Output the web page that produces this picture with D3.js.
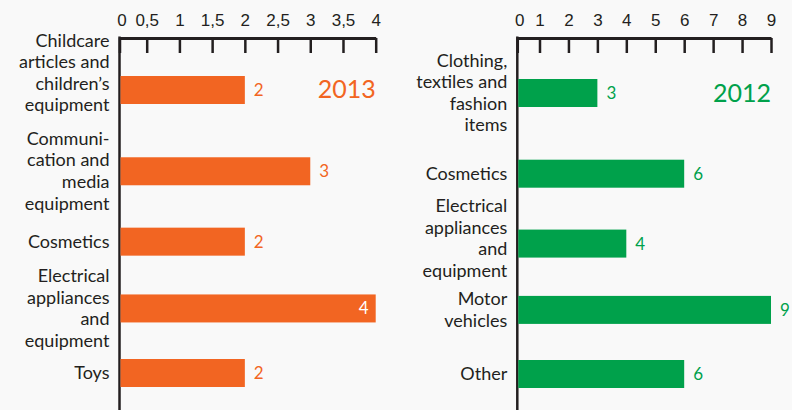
<!DOCTYPE html>
<html>
<head>
<meta charset="utf-8">
<script src="https://cdn.jsdelivr.net/npm/d3@7"></script>
<style>
  body { margin: 0; background: #f9f9f9; }
  svg { display: block; font-family: Lato, "Open Sans", sans-serif; }
  .axis path, .axis line { stroke: #231f20; }
  .axis text { fill: #231f20; font-size: 17px; }
  .cat { fill: #231f20; font-size: 18px; }
</style>
</head>
<body>
<svg></svg>
<script>
var screen = {width: 792, height: 410}

// data
var categories2013 = ["Childcare|articles and|children’s|equipment", "Communi-|cation and|media|equipment", "Cosmetics", "Electrical|appliances|and|equipment", "Toys"]
var values2013 = [2, 3, 2, 4, 2]
var ticks2013 = [0, 0.5, 1, 1.5, 2, 2.5, 3, 3.5, 4]

var categories2012 = ["Clothing,|textiles and|fashion|items", "Cosmetics", "Electrical|appliances|and|equipment", "Motor|vehicles", "Other"]
var values2012 = [3, 6, 4, 9, 6]
var ticks2012 = [0, 1, 2, 3, 4, 5, 6, 7, 8, 9]

var svg = d3.select("svg")
    .attr("width", screen.width)
    .attr("height", screen.height)

var panels = [
    {year: "2013", cats: categories2013, vals: values2013, ticks: ticks2013, color: "#f26522",
     axisX: 119.5, firstTickX: 146.7, endX: 375.7, yRange: [90, 373], edge: 385, yearY: 98,
     labelDy: [-17, 0, 0, 0, 0]},
    {year: "2012", cats: categories2012, vals: values2012, ticks: ticks2012, color: "#00a14b",
     axisX: 517.3, firstTickX: 539.5, endX: 771, yRange: [93, 374], edge: 792, yearY: 102,
     labelDy: [0, 0, -5, 0, 0]}
]

var axisY = 38
var barH = 28
var lineH = 21.6

var drawPanel = function(p)
{
    var g = svg.append("g")
    var max = d3.max(p.ticks)

    var xScale = d3.scaleLinear()
        .domain([0, p.ticks[1], max])
        .range([p.axisX, p.firstTickX, p.endX])

    // rows get a bit tighter towards the bottom, like the original
    var yScale = d3.scalePow().exponent(0.9)
        .domain([0, p.cats.length - 1])
        .range(p.yRange)

    var xAxis = d3.axisTop(xScale)
        .tickValues(p.ticks)
        .tickFormat(function(d) { return String(d).replace(".", ","); })
        .tickSizeInner(-15)
        .tickSizeOuter(0)
        .tickPadding(12)

    var ax = g.append("g")
        .classed("axis", true)
        .attr("transform", "translate(0," + axisY + ")")
        .call(xAxis)
    ax.select(".domain").attr("stroke-width", 3)
    ax.selectAll(".tick line").attr("stroke-width", 2.5)
    ax.selectAll(".tick text").attr("font-family", null)
        .attr("font-size", null)
        .attr("x", function(d) { return d == 0 ? 2 : 0; })

    g.append("line")
        .attr("x1", p.axisX).attr("x2", p.axisX)
        .attr("y1", axisY - 1.5).attr("y2", screen.height)
        .attr("stroke", "#231f20")
        .attr("stroke-width", 2.5)

    g.selectAll("rect.bar")
        .data(p.vals)
        .enter().append("rect")
        .attr("class", "bar")
        .attr("x", p.axisX + 1)
        .attr("y", function(d, i) { return yScale(i) - barH / 2; })
        .attr("width", function(d) { return xScale(d) - p.axisX - 1; })
        .attr("height", barH)
        .attr("fill", p.color)

    g.selectAll("text.val")
        .data(p.vals)
        .enter().append("text")
        .attr("class", "val")
        .attr("font-size", 17)
        .attr("dy", "0.35em")
        .attr("y", function(d, i) { return yScale(i); })
        .each(function(d) {
            var inside = xScale(d) + 8 + 10 > p.edge
            d3.select(this)
                .attr("x", inside ? xScale(d) - 7 : xScale(d) + 9)
                .attr("text-anchor", inside ? "end" : "start")
                .attr("fill", inside ? "#fff" : p.color)
                .text(d)
        })

    var labels = g.selectAll("text.cat")
        .data(p.cats)
        .enter().append("text")
        .attr("class", "cat")
        .attr("text-anchor", "end")
        .attr("y", function(d, i) { return yScale(i) + p.labelDy[i]; })

    labels.each(function(d) {
        var lines = d.split("|")
        var t = d3.select(this)
        lines.forEach(function(l, j) {
            t.append("tspan")
                .attr("x", p.axisX - 10)
                .attr("dy", j == 0 ? (-(lines.length - 1) / 2 * lineH + 6) : lineH)
                .text(l)
        })
    })

    g.append("text")
        .attr("x", p.endX)
        .attr("y", p.yearY)
        .attr("text-anchor", "end")
        .attr("font-size", 25)
        .attr("fill", p.color)
        .text(p.year)
}

panels.forEach(drawPanel)
</script>
</body>
</html>
